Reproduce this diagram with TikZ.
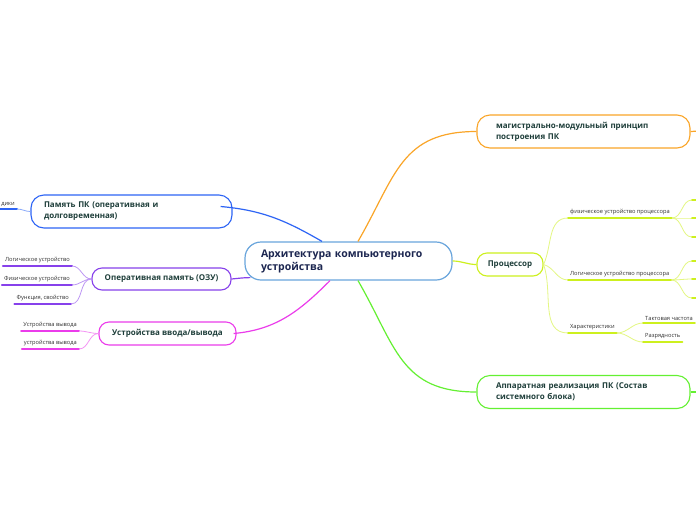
\documentclass[tikz,border=0pt]{standalone}
\usepackage{fontspec}
\setmainfont{Open Sans}
\usetikzlibrary{positioning}
\definecolor{rootline}{RGB}{105,165,220}
\definecolor{roottext}{RGB}{28,38,80}
\definecolor{topictext}{RGB}{30,62,58}
\definecolor{leaftext}{RGB}{50,50,50}
\definecolor{orangeline}{RGB}{250,165,40}
\definecolor{blueline}{RGB}{45,100,245}
\definecolor{purpleline}{RGB}{135,65,235}
\definecolor{magentaline}{RGB}{235,60,235}
\definecolor{ygline}{RGB}{205,240,30}
\definecolor{greenline}{RGB}{100,240,50}
\tikzset{
  root/.style={
    draw=rootline, line width=1.2pt, rounded corners=16pt, fill=white,
    text width=175pt, align=left, inner xsep=16pt, minimum height=38pt,
    font=\bfseries\fontsize{10.5}{13}\selectfont, text=roottext
  },
  topic/.style={
    draw=#1, line width=1.1pt, fill=white,
    font=\bfseries\fontsize{8}{11}\selectfont, text=topictext
  },
  wide/.style={
    rounded corners=13pt, text width=175pt, align=left,
    inner xsep=#1, minimum height=33pt
  },
  pill/.style={rounded corners=10pt, minimum height=23pt},
  leaf/.style={
    font=\fontsize{5.7}{7}\selectfont, text=leaftext,
    inner xsep=2pt, inner ysep=2.5pt
  },
  link/.style={draw=#1, line width=1.2pt},
  twig/.style={draw=#1!55, line width=0.8pt},
  ul/.style={draw=#1, line width=2pt, line cap=round}
}
\begin{document}
\begin{tikzpicture}[x=1pt, y=-1pt]
    \fill[white] (0,0) rectangle (696,520);
    \useasboundingbox (0,0) rectangle (696,520);
    % central idea and the main topics
    \node [root] (arch) at (348.5,261) {Архитектура компьютерного\\устройства};
    \node [topic=orangeline, wide=19pt, on grid, above right=129.5pt and 235pt of arch] (bus) {магистрально-модульный принцип\\построения ПК};
    \node [topic=ygline, pill, minimum width=66pt, on grid, below right=3.5pt and 161.5pt of arch] (cpu) {Процессор};
    \node [topic=greenline, wide=19pt, on grid, below right=131pt and 235pt of arch] (hw) {Аппаратная реализация ПК (Состав\\системного блока)};
    \node [topic=blueline, wide=13pt, on grid, above left=49.5pt and 217pt of arch] (pcmem) {Память ПК (оперативная и\\долговременная)};
    \node [topic=purpleline, pill, minimum height=22pt, minimum width=139pt, on grid, below left=18pt and 187pt of arch] (ram) {Оперативная память (ОЗУ)};
    \node [topic=magentaline, pill, minimum width=137pt, on grid, below left=72.5pt and 181pt of arch] (io) {Устройства ввода/вывода};
    % leaves of the processor
    \node [leaf, anchor=south west] (cpuphys) at (568,218) {физическое устройство процессора};
    \node [leaf, anchor=south west] (cpulog) at (568,280) {Логическое устройство процессора};
    \node [leaf, anchor=south west] (cpuchar) at (568,333) {Характеристики};
    \node [leaf, anchor=south west] (clock) at (643,323) {Тактовая частота};
    \node [leaf, anchor=south west] (width) at (643,342) {Разрядность};
    % leaves on the left
    \node [leaf, anchor=south east] (pcold) at (17,209) {дики};
    \node [leaf, anchor=south east] (ramlog) at (72,266) {Логическое устройство};
    \node [leaf, anchor=south east] (ramphys) at (72,285) {Физическое устройство};
    \node [leaf, anchor=south east] (ramfunc) at (71,304) {Функция, свойство};
    \node [leaf, anchor=south east] (out1) at (79,331) {Устройства вывода};
    \node [leaf, anchor=south east] (out2) at (79,349) {устройства вывода};
    % ends running off the page
    \coordinate (busend) at (700,131);
    \coordinate (hwend) at (700,392);
    \coordinate (pp1) at (692,200);
    \coordinate (pp2) at (692,218);
    \coordinate (pp3) at (692,237);
    \coordinate (lp1) at (692,261);
    \coordinate (lp2) at (692,279);
    \coordinate (lp3) at (692,298);
    % links from the centre
    \draw [link=orangeline] ([xshift=9.5pt]arch.north) to[out=60,in=180,looseness=1.2] (bus.west);
    \draw [link=greenline] ([xshift=9.5pt]arch.south) to[out=-60,in=180,looseness=1.2] (hw.west);
    \draw [link=ygline] (arch.east) to[out=0,in=180] (cpu.west);
    \draw [link=blueline] ([xshift=-26.5pt]arch.north) to[out=150,in=-5] ([xshift=-12pt,yshift=5pt]pcmem.east);
    \draw [link=purpleline] ([xshift=6pt,yshift=3pt]arch.south west) to[out=180,in=5] (ram.east);
    \draw [link=magentaline] ([xshift=-18.5pt]arch.south) to[out=-135,in=5] ([xshift=-3pt]io.east);
    \draw [link=orangeline] (bus.east) -- (busend);
    \draw [link=greenline] (hw.east) -- (hwend);
    % processor branch
    \draw [twig=ygline] (cpu.east) to[out=65,in=180] (cpuphys.south west);
    \draw [twig=ygline] (cpu.east) to[out=-15,in=180] (cpulog.south west);
    \draw [twig=ygline] (cpu.east) to[out=-70,in=180] (cpuchar.south west);
    \draw [ul=ygline] (cpuphys.south west) -- (cpuphys.south east);
    \draw [ul=ygline] (cpulog.south west) -- (cpulog.south east);
    \draw [ul=ygline] (cpuchar.south west) -- (cpuchar.south east);
    \draw [twig=ygline] (cpuchar.south east) to[out=0,in=180] (clock.south west);
    \draw [twig=ygline] (cpuchar.south east) to[out=0,in=180] (width.south west);
    \draw [ul=ygline] (clock.south west) -- (clock.south east);
    \draw [ul=ygline] (width.south west) -- (width.south east);
    \draw [twig=ygline] (cpuphys.south east) to[out=0,in=180] (pp1);
    \draw [twig=ygline] (cpuphys.south east) to[out=0,in=180] (pp2);
    \draw [twig=ygline] (cpuphys.south east) to[out=0,in=180] (pp3);
    \draw [twig=ygline] (cpulog.south east) to[out=0,in=180] (lp1);
    \draw [twig=ygline] (cpulog.south east) to[out=0,in=180] (lp2);
    \draw [twig=ygline] (cpulog.south east) to[out=0,in=180] (lp3);
    \draw [ul=ygline] (pp1) -- ++(10,0);
    \draw [ul=ygline] (pp2) -- ++(10,0);
    \draw [ul=ygline] (pp3) -- ++(10,0);
    \draw [ul=ygline] (lp1) -- ++(10,0);
    \draw [ul=ygline] (lp2) -- ++(10,0);
    \draw [ul=ygline] (lp3) -- ++(10,0);
    % left branches
    \draw [ul=blueline] (pcold.south west) -- (pcold.south east);
    \draw [twig=blueline] (pcold.south east) to[out=0,in=180] (pcmem.west);
    \draw [ul=purpleline] (ramlog.south west) -- (ramlog.south east);
    \draw [ul=purpleline] (ramphys.south west) -- (ramphys.south east);
    \draw [ul=purpleline] (ramfunc.south west) -- (ramfunc.south east);
    \draw [twig=purpleline] (ramlog.south east) to[out=0,in=180] (ram.west);
    \draw [twig=purpleline] (ramphys.south east) to[out=0,in=180] (ram.west);
    \draw [twig=purpleline] (ramfunc.south east) to[out=0,in=180] (ram.west);
    \draw [ul=magentaline] (out1.south west) -- (out1.south east);
    \draw [ul=magentaline] (out2.south west) -- (out2.south east);
    \draw [twig=magentaline] (out1.south east) to[out=0,in=180] (io.west);
    \draw [twig=magentaline] (out2.south east) to[out=0,in=180] (io.west);
\end{tikzpicture}
\end{document}
